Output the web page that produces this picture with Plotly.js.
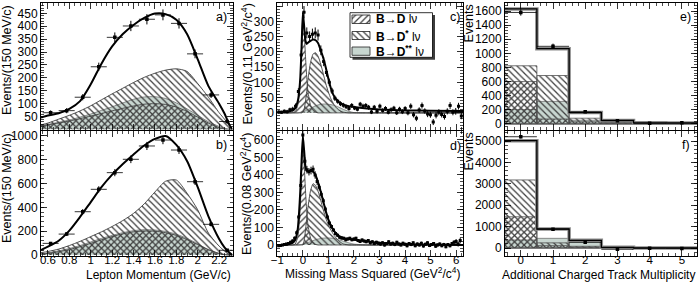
<!DOCTYPE html>
<html><head><meta charset="utf-8">
<script src="https://cdn.plot.ly/plotly-3.0.1.min.js"></script>
<style>html,body{margin:0;padding:0;background:#fff}#chart{width:699px;height:284px}</style>
</head><body><div id="chart"></div>
<script>
// ---------- Panels a/b : lepton momentum ----------
const pBins = [0.625,0.775,0.925,1.075,1.225,1.375,1.525,1.675,1.825,1.975,2.125,2.275];
const pHalfWidth = 0.075;
const aData = [65,73,125,243,357,401,427,444,411,293,134,31];
const aErr  = [9,10,12,16,19,20,20,21,20,17,12,7];
const bData = [98,176,364,552,692,804,916,966,882,616,258,40];
const bErr  = [12,16,22,26,30,32,34,35,33,28,18,8];
const pGrid = [0.535,0.6,0.7,0.8,0.9,1.0,1.1,1.2,1.3,1.4,1.5,1.6,1.7,1.8,1.9,2.0,2.1,2.2,2.25,2.3,2.325];
const aTotal = [46,54,63,80,110,175,255,322,370,405,432,449,447,425,370,272,168,100,62,15,0];
const aDst   = [18,25,40,55,72,92,115,138,160,182,202,218,230,235,225,178,125,65,40,12,0];
const aDss   = [15,20,28,37,48,60,74,88,103,117,126,127,120,103,80,55,30,12,5,1,0];
const aD     = [14,18,25,33,42,52,62,72,82,91,98,100,97,87,70,48,25,7,2,0,0];
const bTotal = [42,70,120,205,320,445,570,675,765,845,920,975,1000,925,790,570,325,135,65,18,0];
const bDst   = [20,30,50,80,115,155,195,240,290,350,430,530,620,630,520,380,185,75,35,8,0];
const bDss   = [10,18,35,55,80,110,140,165,188,205,213,210,198,175,140,95,45,12,4,0,0];
const bD     = [8,14,28,46,70,98,128,155,178,195,202,200,188,165,130,88,45,14,5,0,0];
const aTicks = [50,100,150,200,250,300,350,400,450];
const bTicks = [0,200,400,600,800,1000];

// ---------- Panels c/d : missing mass squared ----------
const cX = [-0.945,-0.835,-0.725,-0.615,-0.505,-0.395,-0.285,-0.175,-0.065,0.045,0.155,0.265,0.375,0.485,0.595,0.705,0.815,0.925,1.035,1.145,1.255,1.365,1.475,1.585,1.695,1.805,1.915,2.025,2.135,2.245,2.355,2.465,2.575,2.685,2.795,2.905,3.015,3.125,3.235,3.345,3.455,3.565,3.675,3.785,3.895,4.005,4.115,4.225,4.335,4.445,4.555,4.665,4.775,4.885,4.995,5.105,5.215,5.325,5.435,5.545,5.655,5.765,5.875,5.985,6.095,6.205];
const cData = [3,2,5,4,10,12,22,70,190,330, 262,250,258,262,255,205,168,132,100,72, 48,38,30,25,20,14,24,16,12,28, 22,24,18,3,18,5,22,8,14,2, 10,15,0,12,4,14,0,22,-6,-18, 9,24,6,-4,-6,-30,-8,2,-5,-12, 5,24,2,5,22,-10];
const cErr  = [5,5,6,6,7,8,9,11,15,20, 18,17,18,18,18,16,15,13,12,10, 9,8,8,8,7,7,8,7,7,8, 8,8,8,7,8,7,8,7,8,7, 8,8,7,8,8,8,8,9,9,9, 9,10,9,10,10,10,10,10,10,10, 10,11,10,11,11,11];
const dX = [-0.96,-0.88,-0.80,-0.72,-0.64,-0.56,-0.48,-0.40,-0.32,-0.24,-0.16,-0.08,0.00,0.08,0.16,0.24,0.32,0.40,0.48,0.56,0.64,0.72,0.80,0.88,0.96,1.04,1.12,1.20,1.28,1.36,1.44,1.52,1.60,1.68,1.76,1.84,1.92,2.00,2.08,2.16,2.24,2.32,2.40,2.48,2.56,2.64,2.72,2.80,2.88,2.96,3.04,3.12,3.20,3.28,3.36,3.44,3.52,3.60,3.68,3.76,3.84,3.92,4.00,4.08,4.16,4.24,4.32,4.40,4.48,4.56,4.64,4.72,4.80,4.88,4.96,5.04,5.12,5.20,5.28,5.36,5.44,5.52,5.60,5.68,5.76,5.84,5.92,6.00,6.08,6.16];
const dData = [-5,-3,0,2,5,8,15,22,38,70, 160,340,628,478,430,418,425,432,400,362, 330,290,252,205,160,125,105,85,65,55, 44,40,38,30,34,38,30,34,38,25, 20,29,22,19,25,12,18,8,15,10, 5,12,0,8,18,5,10,2,15,6, 0,10,4,-5,8,2,12,-4,6,0, 10,-6,4,12,-3,2,8,-8,0,6, -4,3,-10,2,-5,8,15,20,5,25];
const dErr  = [6,6,6,7,7,8,9,10,11,13, 16,20,26,23,22,21,22,22,21,20, 19,18,17,15,14,13,12,11,10,10, 9,9,9,9,9,9,9,9,9,9, 9,9,9,9,9,9,9,9,9,9, 9,9,9,9,9,9,9,9,9,9, 9,9,9,9,9,9,9,9,9,9, 9,9,9,9,9,9,9,9,9,9, 9,9,9,9,9,9,12,14,14,16];
const mGrid  = [-1,-0.6,-0.4,-0.3,-0.2,-0.15,-0.1,-0.05,0,0.05,0.1,0.15,0.2,0.3,0.4,0.5,0.6,0.7,0.8,0.9,1.0,1.1,1.2,1.3,1.4,1.5,1.6,1.8,2.0,2.5,3.0,4.0,5.0,6.28];
const cTotal = [3,4,8,15,38,65,115,215,330,285,238,226,230,236,240,238,228,205,180,148,112,80,58,45,36,30,27,22,19,14,11,8,7,6];
const cDst   = [0,0,0,0,0,0,0,0,2,12,35,70,110,165,193,197,185,160,128,95,68,46,30,18,10,5,2,0,0,0,0,0,0,0];
const cDss   = [0,0,0,0,0,1,2,3,4,5,7,9,11,15,19,23,26,28,29,29,28,27,25,22,19,15,11,5,1,0,0,0,0,0];
const cD     = [0,0,1,4,25,55,105,200,318,270,190,120,70,25,8,2,0,0,0,0,0,0,0,0,0,0,0,0,0,0,0,0,0,0];
const dTotal = [-4,3,12,28,90,180,310,480,622,540,450,425,420,424,420,398,355,305,248,192,145,110,85,66,52,44,39,34,30,21,12,5,2,0];
const dDst   = [0,0,0,0,0,0,0,0,0,25,80,150,215,310,350,340,305,255,200,152,115,85,60,40,25,13,5,0,0,0,0,0,0,0];
const dDss   = [0,0,0,0,0,1,2,3,5,7,9,11,14,19,25,30,34,37,39,40,40,39,37,34,30,26,21,12,5,0,0,0,0,0];
const dD     = [0,0,0,5,45,110,220,400,592,470,320,195,115,40,12,3,0,0,0,0,0,0,0,0,0,0,0,0,0,0,0,0,0,0];
const cTicks = [0,50,100,150,200,250,300,350];
const dTicks = [0,100,200,300,400,500,600];

// ---------- Panels e/f : additional charged track multiplicity ----------
const nBins  = [0,1,2,3,4,5];
const nHalfWidth = 0.5;
const eData  = [1580,1100,171,45,8,15];
const eErr   = [45,38,18,10,6,6];
const eTotal = [1630,1067,161,50,15,12];
const eDst   = [824,686,81,20,5,2];
const eD     = [600,70,30,8,3,1];
const eDss   = [204,319,53,15,5,2];
const fData  = [5200,880,264,-60,-15,-20];
const fErr   = [80,35,25,15,10,10];
const fTotal = [5014,888,357,30,5,2];
const fDst   = [3180,240,80,10,2,0];
const fD     = [1460,110,40,5,0,0];
const fDss   = [374,452,320,10,3,0];
const eTicks = [0,200,400,600,800,1000,1200,1400,1600];
const fTicks = [0,1000,2000,3000,4000,5000];

const legendLabels = ['<b>B\u2192D</b> l\u03bd','<b>B\u2192D<sup>*</sup></b> l\u03bd','<b>B\u2192D<sup>**</sup></b> l\u03bd'];

// ---------- styling ----------
const W = 699, H = 284;
const FONT = 'Liberation Sans, Arial, Helvetica, sans-serif';
const FS = 12.5;
const GRAY = '#c8d6d0';
const px = x => x / W;
const py = y => 1 - y / H;
function hatch(shape){ return {shape:shape, fgcolor:'#3c3c3c', bgcolor:'rgba(0,0,0,0)', size:4.5, solidity:0.28, fillmode:'replace'}; }

function curveTraces(xa, ya, grid, dss, dst, d, tot, sm){
  const base = {type:'scatter', mode:'lines', x:grid, xaxis:xa, yaxis:ya, hoverinfo:'skip'};
  return [
    Object.assign({}, base, {y:dss, fill:'tozeroy', fillcolor:GRAY, line:{color:'#707070', width:0.8, shape:'spline', smoothing:sm}}),
    Object.assign({}, base, {y:dst, fill:'tozeroy', fillcolor:'rgba(0,0,0,0)', fillpattern:hatch('\\'), line:{color:'#404040', width:0.9, shape:'spline', smoothing:sm}}),
    Object.assign({}, base, {y:d, fill:'tozeroy', fillcolor:'rgba(0,0,0,0)', fillpattern:hatch('/'), line:{color:'#404040', width:0.9, shape:'spline', smoothing:sm}}),
    Object.assign({}, base, {y:tot, line:{color:'#000', width:2, shape:'spline', smoothing:sm}})
  ];
}
function dataTrace(xa, ya, x, y, err, hw, ms){
  return {type:'scatter', mode:'markers', x:x, y:y, xaxis:xa, yaxis:ya,
    marker:{symbol:'square', size:ms, color:'#000'},
    error_y:{type:'data', array:err, thickness:1, width:0, color:'#000'},
    error_x:{type:'constant', value:hw, thickness:0.8, width:0, color:'#000'}};
}
function histTraces(xa, ya, dss, dst, d, tot){
  const bb = {type:'bar', x:nBins, xaxis:xa, yaxis:ya, width:1, hoverinfo:'skip'};
  const last = nBins[nBins.length-1];
  const sx = nBins.map(b => b - nHalfWidth).concat([last + nHalfWidth]);
  const sy = tot.concat([tot[tot.length-1]]);
  return [
    Object.assign({}, bb, {y:dss, marker:{color:GRAY, line:{color:'#707070', width:0.8}}}),
    Object.assign({}, bb, {y:dst, marker:{color:'rgba(0,0,0,0)', line:{color:'#505050', width:0.8}, pattern:hatch('\\')}}),
    Object.assign({}, bb, {y:d, marker:{color:'rgba(0,0,0,0)', line:{color:'#505050', width:0.8}, pattern:hatch('/')}}),
    {type:'scatter', mode:'lines', x:sx, y:sy, xaxis:xa, yaxis:ya, line:{shape:'hv', color:'#8c8c8c', width:3.5}},
    {type:'scatter', mode:'lines', x:sx, y:sy, xaxis:xa, yaxis:ya, line:{shape:'hv', color:'#000', width:1.3}}
  ];
}

const traces = [].concat(
  curveTraces('x','y', pGrid, aDss, aDst, aD, aTotal, 0.7),
  [dataTrace('x','y', pBins, aData, aErr, pHalfWidth, 3.5)],
  curveTraces('x2','y2', pGrid, bDss, bDst, bD, bTotal, 0.7),
  [dataTrace('x2','y2', pBins, bData, bErr, pHalfWidth, 3.5)],
  curveTraces('x3','y3', mGrid, cDss, cDst, cD, cTotal, 0.5),
  [dataTrace('x3','y3', cX, cData, cErr, 0.055, 3)],
  curveTraces('x4','y4', mGrid, dDss, dDst, dD, dTotal, 0.5),
  [dataTrace('x4','y4', dX, dData, dErr, 0.04, 3)],
  histTraces('x5','y5', eDss, eDst, eD, eTotal),
  [dataTrace('x5','y5', nBins, eData, eErr, nHalfWidth, 3.5)],
  histTraces('x6','y6', fDss, fDst, fD, fTotal),
  [dataTrace('x6','y6', nBins, fData, fErr, nHalfWidth, 3.5)]
);

// legend swatches on a hidden helper axis (pixel-like coordinates)
const swY = [[15,23.5],[31.5,39.5],[47,55.3]];
const swFill = [hatch('/'), hatch('\\'), null];
swY.forEach((r,i) => {
  const t = {type:'scatter', mode:'lines', x:[352,370,370,352,352], y:[r[0],r[0],r[1],r[1],r[0]], xaxis:'x7', yaxis:'y7',
    fill:'toself', line:{color:'#222', width:0.8}, hoverinfo:'skip'};
  if (swFill[i]) { t.fillcolor = 'rgba(0,0,0,0)'; t.fillpattern = swFill[i]; } else { t.fillcolor = GRAY; }
  traces.push(t);
});

function ax(domain, range, opts){
  const o = {domain:domain, range:range, autorange:false, showgrid:false, zeroline:false,
    showline:true, linecolor:'#000', linewidth:1, mirror:'allticks',
    ticks:'inside', ticklen:6, tickwidth:0.8, tickcolor:'#000',
    tickfont:{family:FONT, size:12, color:'#000'}, fixedrange:true};
  return Object.assign(o, opts);
}
function minor(t0, dt){ return {tickmode:'linear', tick0:t0, dtick:dt, ticks:'inside', ticklen:3, tickwidth:0.7, tickcolor:'#000', showgrid:false}; }
const xLabFont = {family:FONT, size:11.5, color:'#000'};

const colAB = [px(41), px(232.5)], colCD = [px(277.3), px(463)], colEF = [px(505), px(697)];
const rowTop = [py(129.5), py(3)], rowBot = [py(256), py(130.5)];

const layout = {
  width:W, height:H, margin:{l:0,r:0,t:0,b:0}, showlegend:false,
  paper_bgcolor:'#fff', plot_bgcolor:'rgba(0,0,0,0)', barmode:'overlay', bargap:0,
  font:{family:FONT, size:FS, color:'#000'},
  xaxis:  ax(colAB, [0.535,2.325], {anchor:'y', showticklabels:false, tickmode:'linear', tick0:0.6, dtick:0.2, minor:minor(0.6,0.05)}),
  yaxis:  ax(rowTop, [0,490], {anchor:'x', tickmode:'array', tickvals:aTicks, minor:minor(0,10)}),
  xaxis2: ax(colAB, [0.535,2.325], {anchor:'y2', tickmode:'linear', tick0:0.6, dtick:0.2, minor:minor(0.6,0.05), tickfont:xLabFont, ticklabelstandoff:-7}),
  yaxis2: ax(rowBot, [-8,1046], {anchor:'x2', tickmode:'array', tickvals:bTicks, minor:minor(0,40)}),
  xaxis3: ax(colCD, [-1,6.27], {anchor:'y3', showticklabels:false, tickmode:'linear', tick0:0, dtick:1, minor:minor(0,0.2)}),
  yaxis3: ax(rowTop, [-54.5,360], {anchor:'x3', tickmode:'array', tickvals:cTicks, minor:minor(0,10)}),
  xaxis4: ax(colCD, [-1,6.27], {anchor:'y4', tickmode:'linear', tick0:0, dtick:1, minor:minor(0,0.2), tickfont:xLabFont, ticklabelstandoff:-7}),
  yaxis4: ax(rowBot, [-63,654], {anchor:'x4', tickmode:'array', tickvals:dTicks, minor:minor(0,20)}),
  xaxis5: ax(colEF, [-0.49,5.47], {anchor:'y5', showticklabels:false, tickmode:'linear', tick0:0, dtick:1, minor:minor(0,0.2)}),
  yaxis5: ax(rowTop, [-79,1714], {anchor:'x5', tickmode:'array', tickvals:eTicks, minor:minor(0,40)}),
  xaxis6: ax(colEF, [-0.49,5.47], {anchor:'y6', tickmode:'linear', tick0:0, dtick:1, minor:minor(0,0.2), tickfont:xLabFont, ticklabelstandoff:-7}),
  yaxis6: ax(rowBot, [-374,5491], {anchor:'x6', tickmode:'array', tickvals:fTicks, minor:minor(0,200)}),
  xaxis7: {domain:[px(348), px(437)], range:[348,437], visible:false, anchor:'y7', fixedrange:true},
  yaxis7: {domain:[py(61), py(10)], range:[61,10], visible:false, anchor:'x7', fixedrange:true},
  shapes:[
    {type:'rect', xref:'x7', yref:'y7', x0:352.5, x1:435, y0:15, y1:59.8, fillcolor:'#3c3c3c', line:{width:0}, layer:'below'},
    {type:'rect', xref:'x7', yref:'y7', x0:350, x1:432.5, y0:12.7, y1:57.3, fillcolor:'#fff', line:{color:'#000', width:0.8}, layer:'below'}
  ],
  annotations:[]
};

const A = layout.annotations;
function note(text, x, y, xa, ya, extra){ A.push(Object.assign({text:text, x:px(x), y:py(y), xref:'paper', yref:'paper', xanchor:xa, yanchor:ya, showarrow:false, font:{family:FONT, size:FS, color:'#000'}}, extra||{})); }
// y titles
note('Events/(150 MeV/c)', 7, 3, 'center', 'top', {textangle:-90});
note('Events/(150 MeV/c)', 7, 131, 'center', 'top', {textangle:-90});
note('Events/(0.11 GeV<sup>2</sup>/c<sup>4</sup>)', 246, 2, 'center', 'top', {textangle:-90});
note('Events/(0.08 GeV<sup>2</sup>/c<sup>4</sup>)', 246, 131, 'center', 'top', {textangle:-90});
note('Events', 468.5, 3, 'center', 'top', {textangle:-90});
note('Events', 468.5, 131, 'center', 'top', {textangle:-90});
// x titles
note('Lepton Momentum (GeV/c)', 233, 274.5, 'right', 'middle', {font:{family:FONT, size:12, color:'#000'}});
note('Missing Mass Squared (GeV<sup>2</sup>/c<sup>4</sup>)', 462, 273, 'right', 'middle', {font:{family:FONT, size:12, color:'#000'}});
note('Additional Charged Track Multiplicity', 697, 275, 'right', 'middle', {font:{family:FONT, size:12, color:'#000'}});
// panel labels
note('a)', 222, 17, 'center', 'middle');
note('b)', 221, 145, 'center', 'middle');
note('c)', 455, 17.5, 'center', 'middle');
note('d)', 455, 146, 'center', 'middle');
note('e)', 685, 17, 'center', 'middle');
note('f)', 686, 145, 'center', 'middle');
// legend texts
const legY = [19.3, 35.5, 51.2];
legendLabels.forEach((t,i) => note(t, 373.5, legY[i], 'left', 'middle', {font:{family:FONT, size:12, color:'#000'}}));

Plotly.newPlot('chart', traces, layout, {staticPlot:true, displayModeBar:false});
</script></body></html>
